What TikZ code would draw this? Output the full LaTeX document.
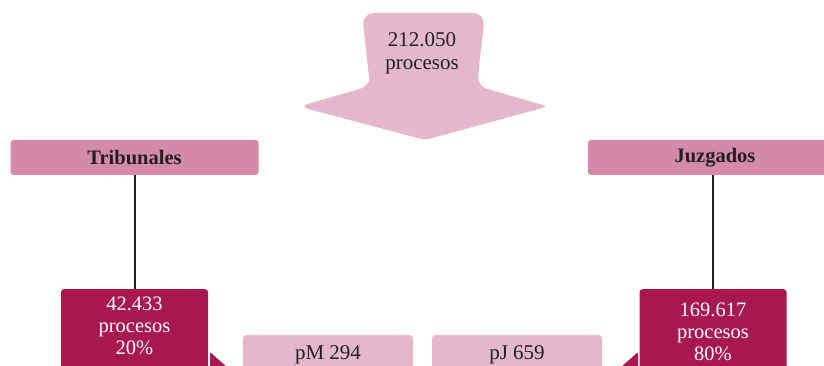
\documentclass[tikz,border=0pt]{standalone}
\usepackage{fontspec}
\setmainfont{Liberation Serif}
\usetikzlibrary{positioning}

\definecolor{lightrose}{HTML}{E4B7CB}
\definecolor{midrose}{HTML}{D48AA8}
\definecolor{deeprose}{HTML}{A9174F}
\definecolor{inkgray}{HTML}{231F20}

\begin{document}
\begin{tikzpicture}[x=1pt,y=-1pt,
        header/.style={fill=midrose, rounded corners=3pt, minimum height=35pt, inner sep=0pt, text=inkgray, font=\fontsize{20.5}{22}\selectfont\bfseries},
        countbox/.style={fill=deeprose, rounded corners=3pt, anchor=north, inner xsep=0pt, inner ysep=0pt, text width=147pt, align=center, text depth=90pt, text=white, font=\fontsize{20.5}{22}\selectfont},
        subbox/.style={fill=lightrose, rounded corners=3pt, anchor=north, minimum width=170pt, inner ysep=0pt, text height=24pt, text depth=30pt, text=inkgray, font=\fontsize{21}{22}\selectfont},
        link/.style={draw=inkgray, line width=2pt}]
        \clip (0,0) rectangle (824,366);

        \coordinate (total) at (422,31);
        \coordinate (trib) at (134.5,157.5);
        \coordinate (juzg) at (715,157.5);
        \coordinate (trib_c) at (134.5,289);
        \coordinate (juzg_c) at (713,289);
        \coordinate (pm) at (328,335);
        \coordinate (pj) at (517,335);

        % big arrow on top
        \fill[lightrose] (424,13) [rounded corners=12pt] -- (362,13) -- (370,86) [rounded corners=10pt] -- (370,86) -- (299,106.5) [rounded corners=5pt] -- (425,140) -- (548,106.5) [rounded corners=10pt] -- (477,86) [rounded corners=12pt] -- (485,13) -- cycle;
        \node[anchor=north, inner sep=0pt, text width=120pt, align=center, text height=15pt, text=inkgray, font=\fontsize{21}{23}\selectfont] (Total) at (total) {212.050\\procesos};

        \node[header, minimum width=248pt] (Trib) at (trib) {Tribunales};
        \node[header, minimum width=254pt] (Juzg) at (juzg) {Juzgados};
        \node[countbox, text height=21pt] (Trib_c) at (trib_c) {42.433\\procesos\\20\%};
        \node[countbox, text height=27pt] (Juzg_c) at (juzg_c) {169.617\\procesos\\80\%};
        \node[subbox] (PM) at (pm) {pM 294};
        \node[subbox] (PJ) at (pj) {pJ 659};

        \path[link] (Trib.south) -- (Trib_c.north);
        \path[link] (Juzg.south -| Juzg_c.north) -- (Juzg_c.north);

        % arrow ends cut by the bottom edge
        \fill[deeprose] (210,368) [rounded corners=2pt] -- (210,352) [sharp corners] -- (228,368) -- cycle;
        \fill[deeprose] (638,368) [rounded corners=2pt] -- (638,352) [sharp corners] -- (620,368) -- cycle;
    \end{tikzpicture}
\end{document}
